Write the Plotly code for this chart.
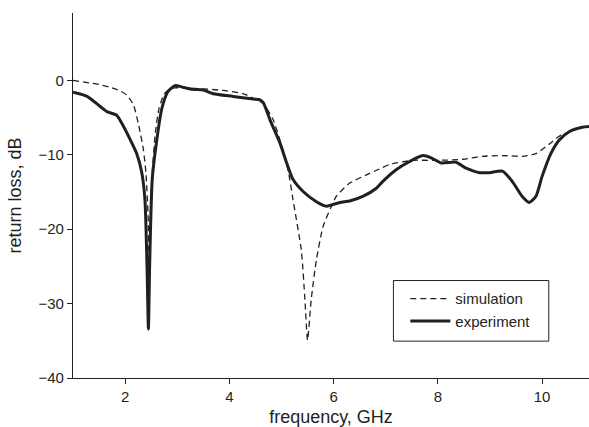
import plotly.graph_objects as go

# simulation (dashed)
sim_f = [1.0, 1.33, 1.52, 1.72, 1.90, 2.03, 2.16, 2.26, 2.35, 2.40, 2.44, 2.46, 2.48, 2.52, 2.58, 2.65, 2.75, 2.85, 2.95,
         3.4, 3.88, 4.27, 4.46, 4.65, 4.84, 4.97, 5.13, 5.22, 5.38, 5.45, 5.50, 5.57, 5.67, 5.80, 5.96, 6.05,
         6.31, 6.63, 6.88, 7.07, 7.52, 7.97, 8.48, 8.86, 9.24, 9.62, 9.88, 10.13, 10.33, 10.52, 10.77, 10.9]
sim_db = [0.0, -0.35, -0.58, -0.95, -1.4, -1.95, -3.3, -6.0, -9.3, -12.5, -18.0, -24.0, -19.0, -12.5, -7.0, -3.8, -1.8, -1.2, -1.0,
          -1.1, -1.35, -1.8, -2.4, -3.1, -5.3, -8.0, -12.2, -16.0, -22.8, -29.5, -34.9, -29.5, -24.1, -19.6, -16.9, -15.6,
          -13.8, -12.7, -11.9, -11.3, -10.75, -10.75, -10.6, -10.2, -10.1, -10.2, -9.85, -8.6, -7.5, -6.9, -6.3, -6.2]

# experiment (solid)
exp_f = [1.0, 1.27, 1.52, 1.65, 1.84, 1.97, 2.10, 2.22, 2.32, 2.38, 2.42, 2.447, 2.47, 2.52, 2.6, 2.7, 2.82,
         2.96, 3.1, 3.3, 3.5, 3.69, 4.07, 4.46, 4.58, 4.65, 4.78, 4.97, 5.10, 5.22, 5.41, 5.67, 5.86, 6.12, 6.31,
         6.56, 6.82, 6.94, 7.20, 7.46, 7.71, 7.87, 8.06, 8.35, 8.54, 8.80, 8.99, 9.24, 9.43, 9.62, 9.75, 9.88,
         10.0, 10.17, 10.33, 10.52, 10.77, 10.9]
exp_db = [-1.6, -2.15, -3.5, -4.2, -4.7, -6.2, -8.0, -9.8, -12.4, -16.0, -25.0, -33.4, -25.0, -13.3, -8.4, -3.9, -1.5,
          -0.7, -0.9, -1.2, -1.3, -1.8, -2.15, -2.5, -2.6, -3.0, -5.3, -8.4, -11.1, -13.3, -14.9, -16.3, -16.9, -16.4, -16.2,
          -15.6, -14.5, -13.6, -12.0, -10.9, -10.1, -10.4, -11.1, -11.0, -11.8, -12.4, -12.4, -12.2, -13.6, -15.6, -16.4, -15.6,
          -12.9, -9.8, -8.0, -6.9, -6.3, -6.2]

x_ticks = [2, 4, 6, 8, 10]
y_ticks = [0, -10, -20, -30, -40]

ink = "#231f20"
fig = go.Figure()
fig.add_trace(go.Scatter(x=sim_f, y=sim_db, mode="lines", name="simulation",
                         line=dict(color=ink, width=1.3, dash="6px,4px", shape="spline", smoothing=0.6)))
fig.add_trace(go.Scatter(x=exp_f, y=exp_db, mode="lines", name="experiment",
                         line=dict(color=ink, width=3, shape="spline", smoothing=0.6)))

fig.update_layout(
    width=589, height=427,
    margin=dict(l=73, r=0, t=13, b=49),
    paper_bgcolor="white", plot_bgcolor="white",
    font=dict(family="Liberation Sans, Arial, sans-serif", size=15, color=ink),
    showlegend=True,
    legend=dict(x=0.644, y=0.262, xanchor="left", yanchor="top",
                borderwidth=0, bgcolor="rgba(0,0,0,0)",
                font=dict(size=15), tracegroupgap=0, itemwidth=40),
    shapes=[dict(type="rect", xref="paper", yref="paper", x0=0.621, x1=0.922, y0=0.101, y1=0.267,
                 line=dict(color=ink, width=1), fillcolor="rgba(0,0,0,0)", layer="below")],
)
fig.update_xaxes(range=[1, 10.9], tickvals=x_ticks, showline=True, linecolor=ink, linewidth=1.2,
                 ticks="outside", ticklen=5, tickcolor=ink, showgrid=False, zeroline=False,
                 automargin=False, title=dict(text="frequency, GHz", standoff=12))
fig.update_yaxes(range=[-40, 9.06], tickvals=y_ticks, showline=True, linecolor=ink, linewidth=1.2,
                 ticks="outside", ticklen=5, tickcolor=ink, showgrid=False, zeroline=False,
                 automargin=False, title=dict(text="return loss, dB", standoff=12))

fig.write_html("out.html", config={"displayModeBar": False},
               post_script="document.body.style.margin='0px';document.body.style.overflow='hidden';")
